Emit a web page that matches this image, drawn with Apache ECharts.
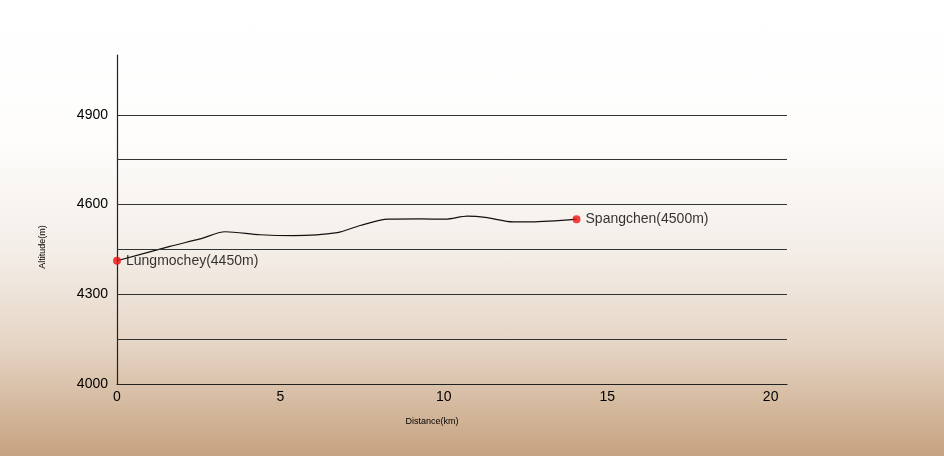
<!DOCTYPE html>
<html>
<head>
<meta charset="utf-8">
<script src="https://cdn.jsdelivr.net/npm/echarts@6/dist/echarts.min.js"></script>
<style>
html,body{margin:0;padding:0;width:944px;height:456px;overflow:hidden;}
#c{width:944px;height:456px;background:linear-gradient(to bottom,#ffffff 0%,#fefdfc 30%,#f4eee8 55%,#e6d6c6 75%,#d3b79c 90%,#c6a27f 100%);}
</style>
</head>
<body>
<div id="c"></div>
<script>
// Profile of the trek
var distanceKm = [0, 1.62, 2.54, 3.31, 4.38, 5.39, 6.74, 7.44, 8.30, 9.28, 10.05, 10.72, 11.27, 12.13, 12.65, 14.06];
var altitudeM  = [4412, 4460, 4485, 4509, 4499, 4496, 4506, 4530, 4551, 4552, 4551, 4561, 4557, 4542, 4542, 4551];
// Named endpoints
var placeNames = ['Lungmochey(4450m)', 'Spangchen(4500m)'];
// Axis ticks and horizontal guide lines
var yTicks = [4000, 4300, 4600, 4900];
var xTicks = [0, 5, 10, 15, 20];
var gridValues = [4150, 4300, 4450, 4600, 4750, 4900];

var chart = echarts.init(document.getElementById('c'));
var font = 'Liberation Sans, Arial, Helvetica, sans-serif';

var lineData = distanceKm.map(function (d, i) { return [d, altitudeM[i]]; });
var last = distanceKm.length - 1;
var endData = [
  { name: placeNames[0], value: [distanceKm[0], altitudeM[0]] },
  { name: placeNames[1], value: [distanceKm[last], altitudeM[last]] }
];

chart.setOption({
  backgroundColor: 'transparent',
  animation: false,
  grid: { left: 117, right: 157, top: 55, bottom: 72 },
  xAxis: {
    type: 'value', min: 0, max: 20.5, interval: 5,
    name: 'Distance(km)', nameLocation: 'middle', nameGap: 33,
    nameTextStyle: { fontFamily: font, fontSize: 9, color: '#000', padding: [0, 40, 0, 0] },
    axisLine: { show: true, lineStyle: { color: '#222', width: 1.2 } },
    axisTick: { show: false },
    splitLine: { show: false },
    axisLabel: {
      fontFamily: font, fontSize: 14, color: '#000', margin: 6,
      formatter: function (v) { return xTicks.indexOf(v) >= 0 ? String(v) : ''; }
    }
  },
  yAxis: {
    type: 'value', min: 4000, max: 5100, interval: 150,
    name: 'Altitude(m)', nameLocation: 'middle', nameGap: 70, nameRotate: 90,
    nameTextStyle: { fontFamily: font, fontSize: 9, color: '#000', padding: [0, 55, 0, 0] },
    axisLine: { show: true, lineStyle: { color: '#222', width: 1.2 } },
    axisTick: { show: false },
    splitLine: { show: false },
    axisLabel: {
      fontFamily: font, fontSize: 14, color: '#000', margin: 9,
      formatter: function (v) { return yTicks.indexOf(v) >= 0 ? String(v) : ''; }
    }
  },
  series: [
    {
      type: 'line', data: lineData, smooth: 0.3, symbol: 'none',
      lineStyle: { color: '#111', width: 1.2 }, z: 3,
      markLine: {
        silent: true, symbol: 'none', animation: false,
        label: { show: false },
        lineStyle: { color: '#333', width: 1, type: 'solid' },
        data: gridValues.map(function (v) { return { yAxis: v }; })
      }
    },
    {
      type: 'scatter', data: endData, symbolSize: 8,
      itemStyle: { color: '#ee1111' }, z: 4,
      label: {
        show: true, position: 'right', distance: 5,
        formatter: '{b}', fontFamily: font, fontSize: 14, color: '#000'
      }
    }
  ]
});
</script>
</body>
</html>
